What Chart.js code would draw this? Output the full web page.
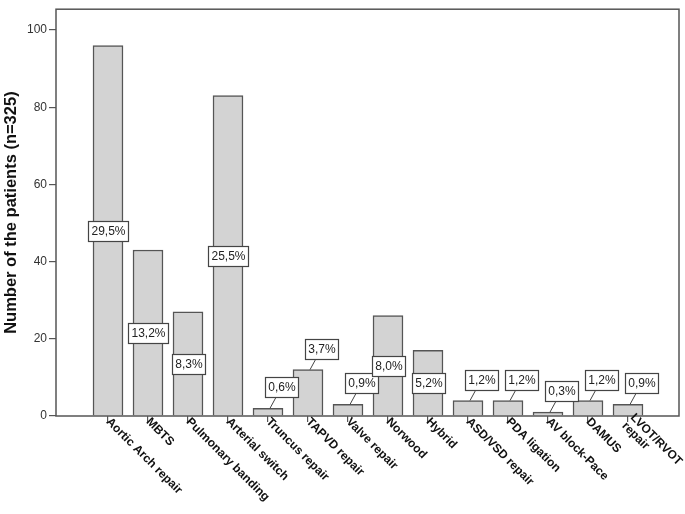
<!DOCTYPE html>
<html><head><meta charset="utf-8">
<script src="https://cdn.jsdelivr.net/npm/chart.js@4.4.0/dist/chart.umd.min.js"></script>
<style>html,body{margin:0;padding:0;background:#fff}#wrap{width:685px;height:514px}</style>
</head><body><div id="wrap"><canvas id="c" width="685" height="514"></canvas></div>
<script>
const categories = ["Aortic Arch repair","MBTS","Pulmonary banding","Arterial switch","Truncus repair","TAPVD repair","Valve repair","Norwood","Hybrid","ASD/VSD repair","PDA ligation","AV block-Pace","DAMUS",["LVOT/RVOT","repair"]];
const counts = [96,43,27,83,2,12,3,26,17,4,4,1,4,3];
const percentLabels = ["29,5%","13,2%","8,3%","25,5%","0,6%","3,7%","0,9%","8,0%","5,2%","1,2%","1,2%","0,3%","1,2%","0,9%"];
const yTicks = [0,20,40,60,80,100];
const yTitle = "Number of the patients (n=325)";

const overlay = {
  id: 'overlay',
  afterDatasetsDraw(chart) {
    const ctx = chart.ctx, a = chart.chartArea, xs = chart.scales.x, ys = chart.scales.y;
    ctx.save();
    ctx.strokeStyle = '#555'; ctx.lineWidth = 1.5;
    ctx.strokeRect(a.left, a.top, a.right - a.left, a.bottom - a.top);
    ctx.font = '12px "Liberation Sans", Arial, sans-serif';
    counts.forEach((v, i) => {
      const x = xs.getPixelForValue(i);
      const top = ys.getPixelForValue(v);
      const txt = percentLabels[i];
      const w = Math.round(ctx.measureText(txt).width + 6), h = 20;
      let cx, cy;
      if (v >= 15) { cx = x; cy = ys.getPixelForValue(v / 2); }
      else {
        cx = x + 13; cy = top - 21;
        ctx.beginPath(); ctx.moveTo(x + 2, top); ctx.lineTo(cx - 5, cy + h / 2);
        ctx.strokeStyle = '#444'; ctx.lineWidth = 1; ctx.stroke();
      }
      const bx = Math.round(cx - w / 2) + 0.5, by = Math.round(cy - h / 2) + 0.5;
      ctx.fillStyle = '#fff'; ctx.fillRect(bx, by, w, h);
      ctx.strokeStyle = '#444'; ctx.lineWidth = 1.2; ctx.strokeRect(bx, by, w, h);
      ctx.fillStyle = '#222'; ctx.textAlign = 'center'; ctx.textBaseline = 'middle';
      ctx.fillText(txt, bx + w / 2, by + h / 2 + 0.5);
    });
    ctx.font = 'bold 12px "Liberation Sans", Arial, sans-serif';
    ctx.fillStyle = '#111';
    categories.forEach((lab, i) => {
      const x = xs.getPixelForValue(i);
      const lines = Array.isArray(lab) ? lab : [lab];
      ctx.save(); ctx.translate(x, a.bottom + 4); ctx.rotate(Math.PI / 4);
      ctx.textAlign = 'left'; ctx.textBaseline = 'middle';
      const lh = 12;
      lines.forEach((ln, k) => ctx.fillText(ln, 0, (k - (lines.length - 1) / 2) * lh));
      ctx.restore();
    });
    ctx.restore();
  }
};

new Chart(document.getElementById('c'), {
  type: 'bar',
  data: {
    datasets: [{
      data: counts.map((v, i) => ({ x: i, y: v })),
      backgroundColor: '#d3d3d3',
      borderColor: '#555',
      borderWidth: 1.5,
      barThickness: 30
    }]
  },
  options: {
    responsive: false,
    animation: false,
    devicePixelRatio: 1,
    layout: { padding: { top: 5, right: 6, left: 0, bottom: 0 } },
    plugins: { legend: { display: false }, tooltip: { enabled: false } },
    scales: {
      x: {
        type: 'linear', min: -1.3, max: 14.275, offset: false,
        grid: { display: true, offset: false, drawOnChartArea: false, drawTicks: true, tickLength: 6, color: '#555', lineWidth: 1.2 },
        border: { display: false },
        ticks: { display: false },
        afterBuildTicks: s => { s.ticks = categories.map((_, i) => ({ value: i })); },
        afterFit: s => { s.height = 98; }
      },
      y: {
        min: 0, max: 105.4,
        afterBuildTicks: s => { s.ticks = yTicks.map(v => ({ value: v })); },
        grid: { drawOnChartArea: false, drawTicks: true, tickLength: 7, color: '#555', lineWidth: 1.2 },
        border: { display: false },
        ticks: { font: { family: '"Liberation Sans", Arial, sans-serif', size: 12 }, color: '#333', padding: 2 },
        title: { display: true, text: yTitle, font: { family: '"Liberation Sans", Arial, sans-serif', weight: 'bold', size: 16.5 }, color: '#111', padding: { top: 2, bottom: 1 } },
        afterFit: s => { s.width = 56; }
      }
    }
  },
  plugins: [overlay]
});
</script>
</body></html>
